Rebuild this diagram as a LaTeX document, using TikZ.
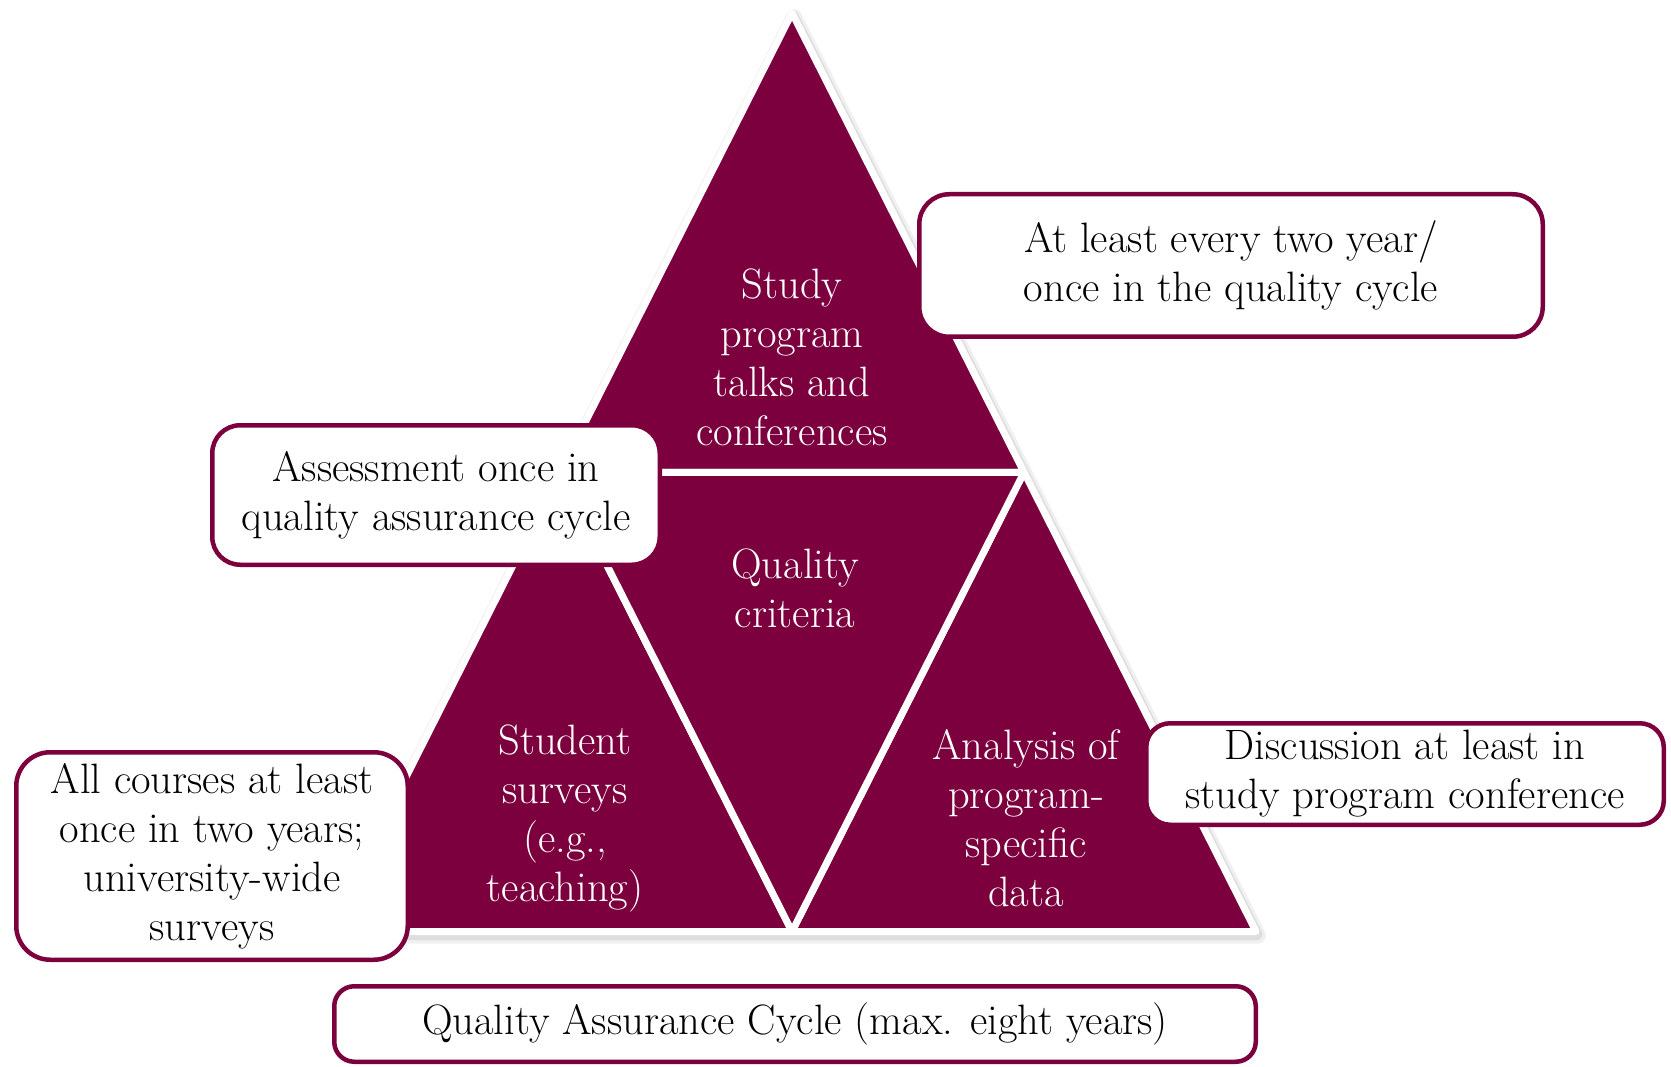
\documentclass[tikz,border=0pt]{standalone}
\usetikzlibrary{calc}
\definecolor{qmaroon}{RGB}{124,0,62}
\newcommand\qfont{\fontsize{42.5}{49}\selectfont}
\begin{document}
\begin{tikzpicture}[x=1pt,y=-1pt,
  tri/.style={fill=qmaroon,draw=white,line width=7pt,line join=round},
  wtext/.style={text=white,align=center,font=\qfont,inner sep=0pt},
  infobox/.style={draw=qmaroon,fill=white,line width=4.5pt,rounded corners=28pt,align=center,font=\qfont,inner sep=0pt,text=black}]
\useasboundingbox (0,0) rectangle (1671,1067);
\fill[white] (0,0) rectangle (1671,1067);
% corners of the pyramid
\coordinate (A) at (792,13);
\coordinate (B) at (328,931.5);
\coordinate (C) at (1256,931.5);
\coordinate (AB) at ($(A)!0.5!(B)$);
\coordinate (AC) at ($(A)!0.5!(C)$);
\coordinate (BC) at ($(B)!0.5!(C)$);
% soft shadow
\draw[black,opacity=0.06,line width=16pt,line join=round] ($(A)+(2,4)$) -- ($(B)+(2,4)$) -- ($(C)+(2,4)$) -- cycle;
\draw[black,opacity=0.08,line width=11pt,line join=round] ($(A)+(1,3)$) -- ($(B)+(1,3)$) -- ($(C)+(1,3)$) -- cycle;
% four triangles
\draw[tri] (A) -- (AB) -- (AC) -- cycle;
\draw[tri] (AB) -- (B) -- (BC) -- cycle;
\draw[tri] (AC) -- (BC) -- (C) -- cycle;
\draw[tri] (AB) -- (AC) -- (BC) -- cycle;
% labels in triangles
\node[wtext] (top) at (792,357) {Study\\program\\talks and\\conferences};
\node[wtext] (mid) at (795,588) {Quality\\criteria};
\node[wtext] (left) at (565,818) {Student\\surveys\\(e.g.,\\teaching)};
\node[wtext] (right) at (1026,818) {Analysis of\\program-\\specific\\data};
% boxes
\node[infobox,minimum width=623.5pt,minimum height=142.5pt,rounded corners=30pt] (b1) at (1231,265.5) {At least every two year/\\once in the quality cycle};
\node[infobox,minimum width=447.5pt,minimum height=139.5pt] (b2) at (436,495) {Assessment once in\\quality assurance cycle};
\node[infobox,minimum width=391.5pt,minimum height=207.5pt,rounded corners=34pt] (b3) at (212,856) {All courses at least\\once in two years;\\university-wide\\surveys};
\node[infobox,minimum width=517.5pt,minimum height=101.5pt,rounded corners=24pt] (b4) at (1405,774) {Discussion at least in\\study program conference};
\node[infobox,minimum width=921.5pt,minimum height=75.5pt,rounded corners=20pt] (b5) at (795,1024) {Quality Assurance Cycle (max. eight years)};
\end{tikzpicture}
\end{document}
